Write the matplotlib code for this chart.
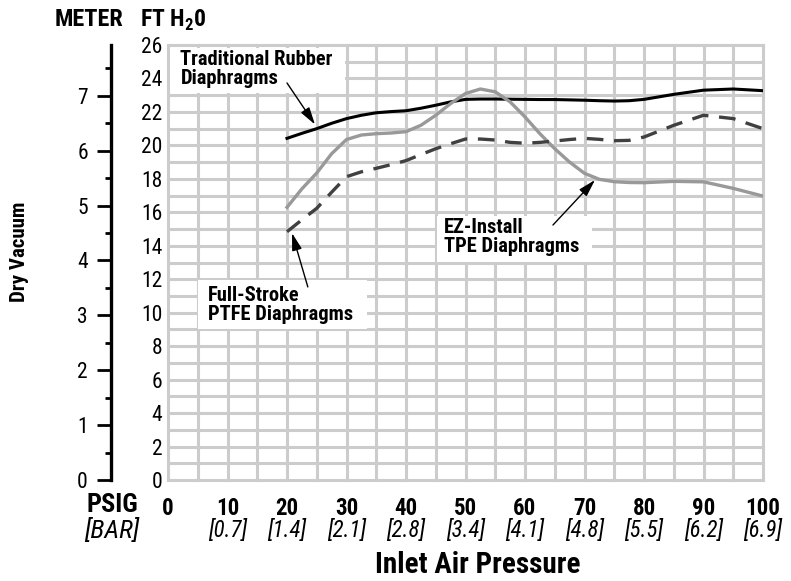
import numpy as np
import matplotlib
matplotlib.use("Agg")
import matplotlib.pyplot as plt
from matplotlib import font_manager
from matplotlib.patches import Rectangle

# pick a condensed face if one is there
names = {f.name for f in font_manager.fontManager.ttflist}
fam = "Liberation Sans"
for cand in ["Roboto Condensed", "Archivo Narrow", "PT Sans Narrow", "Liberation Sans Narrow",
             "Arial Narrow", "IBM Plex Sans Condensed", "Asap Condensed", "Encode Sans Condensed"]:
    if cand in names:
        fam = cand
        break
plt.rcParams["font.family"] = [fam, "DejaVu Sans"]
plt.rcParams["mathtext.fontset"] = "custom"
plt.rcParams["mathtext.bf"] = fam + ":bold"
plt.rcParams["mathtext.rm"] = fam + ":bold"

# inlet air pressure, psig
psig = [20, 22.5, 25, 27.5, 30, 32.5, 35, 37.5, 40, 42.5, 45, 47.5, 50, 52.5, 55,
        57.5, 60, 62.5, 65, 67.5, 70, 72.5, 75, 77.5, 80, 85, 90, 95, 100]
# dry vacuum, ft H2O
rubber = [20.42, 20.72, 21.0, 21.32, 21.6, 21.8, 21.95, 22.02, 22.07, 22.22, 22.4, 22.6, 22.75, 22.77, 22.77,
          22.76, 22.75, 22.74, 22.74, 22.72, 22.7, 22.67, 22.65, 22.67, 22.75, 23.05, 23.3, 23.37, 23.27]
tpe = [16.3, 17.4, 18.35, 19.5, 20.35, 20.62, 20.7, 20.74, 20.82, 21.2, 21.8, 22.5, 23.1, 23.37, 23.2,
       22.6, 21.7, 20.7, 19.8, 19.0, 18.33, 17.97, 17.83, 17.78, 17.77, 17.85, 17.82, 17.43, 16.97]
ptfe = [14.84, 15.55, 16.24, 17.2, 18.13, 18.42, 18.63, 18.85, 19.09, 19.45, 19.8, 20.1, 20.38, 20.38, 20.32,
        20.18, 20.13, 20.18, 20.26, 20.35, 20.42, 20.36, 20.28, 20.3, 20.5, 21.2, 21.8, 21.6, 21.0]

psig_ticks = [0, 10, 20, 30, 40, 50, 60, 70, 80, 90, 100]
bar_labels = ["", "[0.7]", "[1.4]", "[2.1]", "[2.8]", "[3.4]", "[4.1]", "[4.8]", "[5.5]", "[6.2]", "[6.9]"]

FT_PER_M = 3.28084

fig = plt.figure(figsize=(7.91, 5.81), dpi=100)
ax = fig.add_axes([168 / 791, 101 / 581, 595 / 791, 435 / 581])
ax.set_xlim(0, 100)
ax.set_ylim(0, 26)

for s in ax.spines.values():
    s.set_visible(False)

ax.set_xticks(psig_ticks)
ax.set_xticks(np.arange(5, 100, 10), minor=True)
ax.set_yticks(np.arange(0, 27, 2))
ax.set_yticks(np.arange(1, 26, 2), minor=True)
ax.grid(True, which="both", color="#cccccc", lw=2.2)
ax.set_axisbelow(True)
for t in (ax.xaxis.get_major_ticks() + ax.xaxis.get_minor_ticks()
          + ax.yaxis.get_major_ticks() + ax.yaxis.get_minor_ticks()):
    t.gridline.set_clip_on(False)

ax.tick_params(which="both", length=0)
ax.tick_params(axis="x", pad=12, labelsize=16.5)
ax.tick_params(axis="y", pad=4, labelsize=15.5)
for lab in ax.get_xticklabels():
    lab.set_fontweight("bold")

for x, b in zip(psig_ticks, bar_labels):
    ax.text(x, -0.115, b, transform=ax.get_xaxis_transform(), ha="center", va="center",
            fontsize=16.5, style="italic")

ax.text(-0.094, -0.058, "PSIG", transform=ax.transAxes, ha="center", va="center",
        fontsize=19, fontweight="bold")
ax.text(-0.094, -0.115, "[BAR]", transform=ax.transAxes, ha="center", va="center",
        fontsize=19, style="italic")
ax.text(0.52, -0.195, "Inlet Air Pressure", transform=ax.transAxes, ha="center", va="center",
        fontsize=21, fontweight="bold")

# meter scale on the left
sec = ax.secondary_yaxis(-0.095, functions=(lambda f: f / FT_PER_M, lambda m: m * FT_PER_M))
sec.set_yticks(np.arange(0, 8, 1))
sec.set_yticks(np.arange(0.5, 8, 1), minor=True)
sec.spines["left"].set_linewidth(2.4)
sec.tick_params(which="major", length=10, width=2, pad=7, labelsize=15.5)
sec.tick_params(which="minor", length=4.5, width=2)

fig.text(55 / 791, 1 - 20 / 581, "METER", ha="left", va="center", fontsize=17.5, fontweight="bold")
fig.text(140 / 791, 1 - 20 / 581, r"FT H$_\mathbf{2}$0", ha="left", va="center", fontsize=17,
         fontweight="bold")
fig.text(20 / 791, 1 - 252 / 581, "Dry Vacuum", rotation=90, ha="center", va="center",
         fontsize=15, fontweight="bold")

ax.plot(psig, rubber, color="black", lw=2.2, zorder=3)
ax.plot(psig, tpe, color="#999999", lw=2.4, zorder=3)
ax.plot(psig, ptfe, color="#404040", lw=2.4, ls=(0, (5, 3.2)), zorder=3)

# white label boxes
for x0, y0, x1, y1 in [(0.3, 23.15, 29.7, 25.85), (5.1, 9.05, 33.4, 11.95), (45.2, 13.05, 71.2, 15.75)]:
    ax.add_patch(Rectangle((x0, y0), x1 - x0, y1 - y0, facecolor="white", edgecolor="none", zorder=1))

lbl = dict(fontsize=14.8, fontweight="bold", ha="left", va="top", linespacing=0.98, zorder=4)
ax.text(2.1, 25.7, "Traditional Rubber\nDiaphragms", **lbl)
ax.text(6.7, 11.6, "Full-Stroke\nPTFE Diaphragms", **lbl)
ax.text(46.4, 15.65, "EZ-Install\nTPE Diaphragms", **lbl)

arr = dict(arrowstyle="-|>,head_length=1.05,head_width=0.3", color="black", lw=1,
           shrinkA=0, shrinkB=0)
ax.annotate("", xy=(24.7, 21.25), xytext=(20.0, 23.73), arrowprops=arr, zorder=4)
ax.annotate("", xy=(20.84, 14.76), xytext=(23.5, 11.54), arrowprops=arr, zorder=4)
ax.annotate("", xy=(71.76, 17.93), xytext=(64.7, 15.24), arrowprops=arr, zorder=4)

fig.savefig("out.png", dpi=100)
